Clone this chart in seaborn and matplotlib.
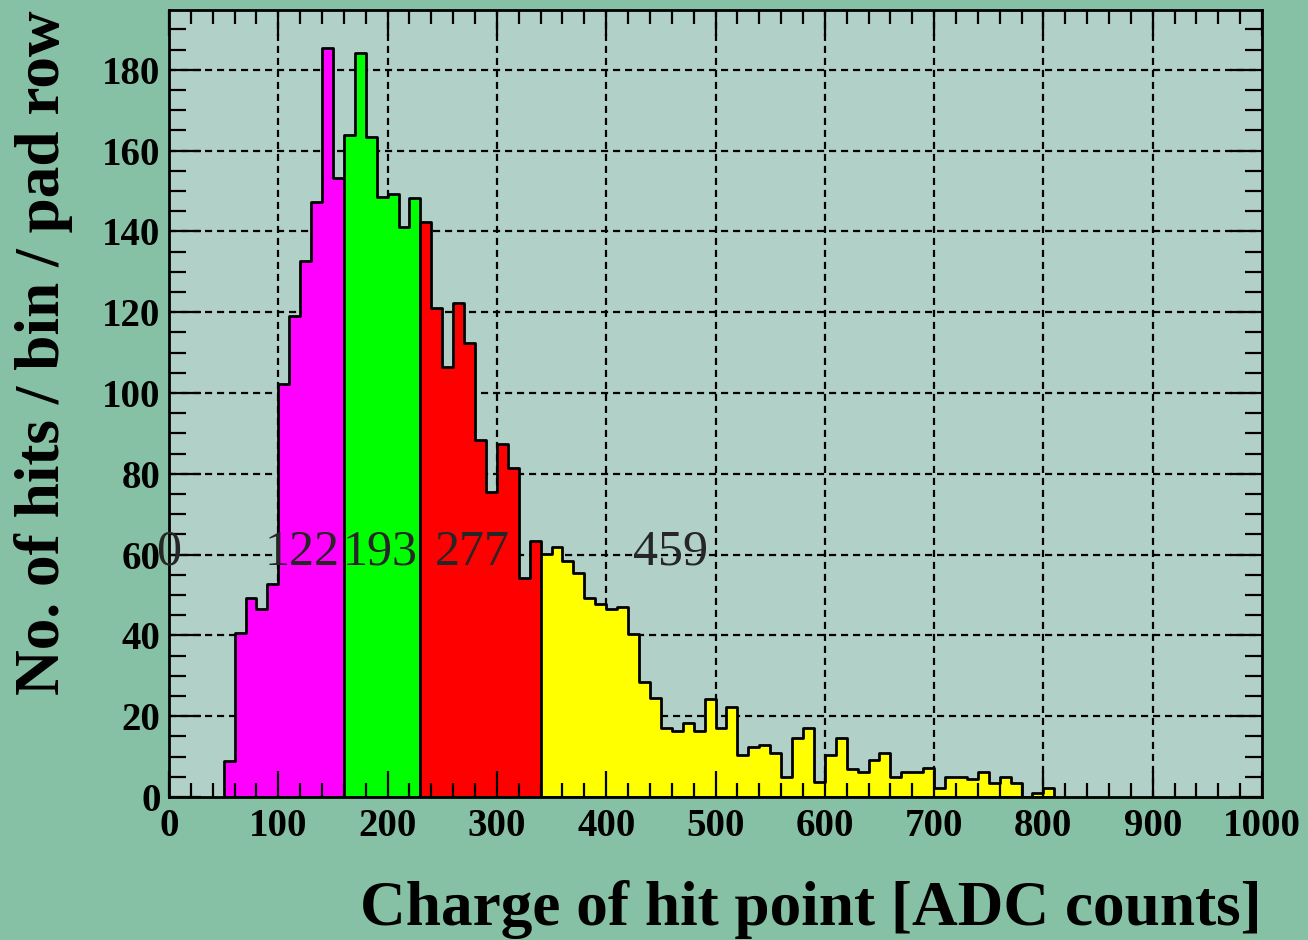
import numpy as np
import pandas as pd
import matplotlib
matplotlib.use("Agg")
import matplotlib.pyplot as plt
import seaborn as sns

# ---------------- data ----------------
bin_width = 10
# bin left edges and per-bin contents (No. of hits / bin / pad row)
magenta_start = 50
magenta_vals = [8.9, 40.7, 49.2, 46.5, 52.6, 102.2, 119.1, 132.7, 147.2, 185.3, 153.1]
green_start = 160
green_vals = [163.9, 184.1, 163.3, 148.4, 149.3, 141.0, 148.3]
red_start = 230
red_vals = [142.4, 121.1, 106.5, 122.2, 112.3, 88.4, 75.4, 87.4, 81.5, 54.1, 63.4]
yellow_start = 340
yellow_vals = [60.1, 61.8, 58.5, 55.4, 49.2, 47.8, 46.5, 47.1, 40.3, 28.4,
               24.4, 17.0, 16.4, 18.2, 16.4, 24.3, 17.0, 22.4, 10.4, 12.3,
               12.9, 10.95, 5.0, 14.5, 17.2, 3.6, 10.4, 14.5, 6.9, 6.3,
               9.2, 11.0, 4.9, 6.3, 6.3, 7.3, 2.3, 5.0, 5.0, 4.4,
               6.3, 3.4, 5.0, 3.4, 0.0, 1.1, 2.2]

segment_starts = [magenta_start, green_start, red_start, yellow_start]
segment_values = [magenta_vals, green_vals, red_vals, yellow_vals]
segment_colors = ["#ff00ff", "#00ff00", "#ff0000", "#ffff00"]

marker_values = [0, 122, 193, 277, 459]
marker_labels = ["0", "122", "193", "277", "459"]
marker_y = 57.5

x_ticks = list(range(0, 1001, 100))
y_ticks = list(range(0, 181, 20))

xlabel = "Charge of hit point [ADC counts]"
ylabel = "No. of hits / bin / pad row"

# ---------------- style ----------------
outer_bg = "#87c1a5"
inner_bg = "#b1d0c8"
serif = ["Liberation Serif", "DejaVu Serif"]

plt.rcParams["font.family"] = serif
plt.rcParams["axes.axisbelow"] = "line"

fig = plt.figure(figsize=(13.08, 9.40), dpi=100, facecolor=outer_bg)
ax = fig.add_axes([169 / 1308, 1 - 797 / 940, (1262 - 169) / 1308, (797 - 10) / 940])
ax.set_facecolor(inner_bg)

# manual grid (below the histogram, ticks remain on top)
grid_style = dict(color="black", linewidth=1.6, linestyle=(0, (3.2, 2.2)), zorder=0.5)
for xv in x_ticks[1:-1]:
    ax.axvline(xv, **grid_style)
for yv in y_ticks[1:]:
    ax.axhline(yv, **grid_style)

for start, vals, col in zip(segment_starts, segment_values, segment_colors):
    n = len(vals)
    centers = [start + bin_width * (i + 0.5) for i in range(n)]
    df = pd.DataFrame({"x": centers, "w": vals})
    sns.histplot(data=df, x="x", weights="w", binwidth=bin_width,
                 binrange=(start, start + bin_width * n), element="step",
                 fill=True, color=col, alpha=1.0, edgecolor="black",
                 linewidth=2.0, ax=ax, zorder=1)

for xv, lab in zip(marker_values, marker_labels):
    ax.text(xv, marker_y, lab, ha="center", va="baseline", fontsize=36,
            color="#262626", family=serif, zorder=3)

ax.set_xlim(0, 1000)
ax.set_ylim(0, 194.8)
ax.set_xticks(x_ticks)
ax.set_yticks(y_ticks)
ax.set_xticks(np.arange(0, 1001, 20), minor=True)
ax.set_yticks(np.arange(0, 195, 5), minor=True)

ax.tick_params(axis="both", which="both", direction="in", top=True, right=True,
               width=1.6, color="black")
ax.tick_params(axis="x", which="major", length=19, pad=8)
ax.tick_params(axis="x", which="minor", length=10)
ax.tick_params(axis="y", which="major", length=23, pad=6)
ax.tick_params(axis="y", which="minor", length=12)

for lab in ax.get_xticklabels() + ax.get_yticklabels():
    lab.set_fontsize(28)
    lab.set_fontweight("bold")
    lab.set_family(serif)

for sp in ax.spines.values():
    sp.set_linewidth(2.0)
    sp.set_color("black")

ax.set_xlabel(xlabel, loc="right", fontsize=45.5, fontweight="bold", labelpad=25)
ax.set_ylabel(ylabel, loc="top", fontsize=45.5, fontweight="bold", labelpad=21)

fig.savefig("out.png", dpi=100, facecolor=outer_bg)
